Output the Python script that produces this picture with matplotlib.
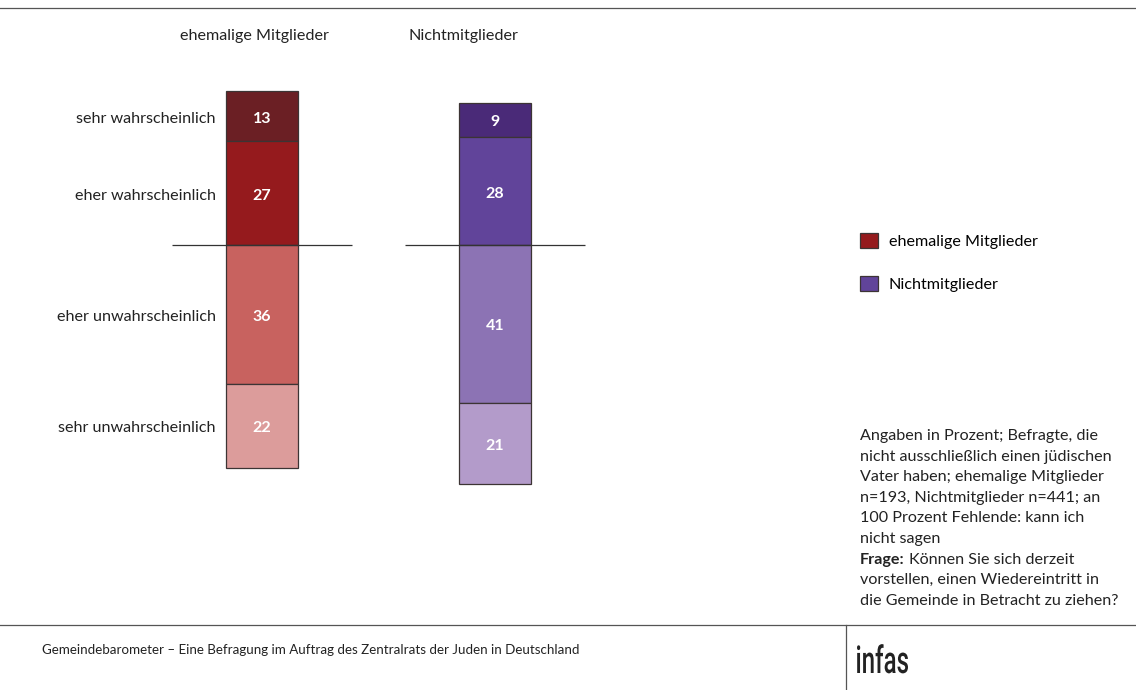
import matplotlib
matplotlib.use("Agg")
import matplotlib.pyplot as plt
from matplotlib.patches import Patch, PathPatch
from matplotlib.lines import Line2D
from matplotlib.textpath import TextPath
from matplotlib.font_manager import FontProperties
from matplotlib.transforms import Affine2D, IdentityTransform, ScaledTranslation

plt.rcParams['font.family'] = ['Lato', 'DejaVu Sans']

# data
groups = ['ehemalige Mitglieder', 'Nichtmitglieder']
categories = ['sehr wahrscheinlich', 'eher wahrscheinlich',
              'eher unwahrscheinlich', 'sehr unwahrscheinlich']
ehemalige = [13, 27, 36, 22]
nichtmitglieder = [9, 28, 41, 21]

red_shades = ['#6B1F24', '#951A1D', '#C8625F', '#DC9C9B']
purple_shades = ['#4A2A78', '#61449A', '#8C73B4', '#B39BCA']

note_lines = ['Angaben in Prozent; Befragte, die',
              'nicht ausschließlich einen jüdischen',
              'Vater haben; ehemalige Mitglieder',
              'n=193, Nichtmitglieder n=441; an',
              '100 Prozent Fehlende: kann ich',
              'nicht sagen']
frage_lines = ['Können Sie sich derzeit',
               'vorstellen, einen Wiedereintritt in',
               'die Gemeinde in Betracht zu ziehen?']
footer = 'Gemeindebarometer – Eine Befragung im Auftrag des Zentralrats der Juden in Deutschland'

W, H = 1136, 690
fs = 11.6
txt = '#222222'
fig = plt.figure(figsize=(W / 100, H / 100), dpi=100)


def px(x, y):
    return x / W, 1 - y / H


# axes: pixel box x 172..586, y 52.5..514.5
ax = fig.add_axes([172 / W, (H - 514.5) / H, 414 / W, 462 / H])
ax.set_xlim(-0.386, 1.391)
ax.set_ylim(-70, 50)
ax.axis('off')

# labels sit a touch lower than the geometric centre
down = ax.transData + ScaledTranslation(0, -2.5 / 100, fig.dpi_scale_trans)

bw = 0.309
edge = '#3c3434'
for i, (vals, cols) in enumerate([(ehemalige, red_shades), (nichtmitglieder, purple_shades)]):
    bottoms = [vals[1], 0, 0, -vals[2]]
    heights = [vals[0], vals[1], -vals[2], -vals[3]]
    for b, h, c, v in zip(bottoms, heights, cols, vals):
        ax.bar(i, h, bottom=b, width=bw, color=c, edgecolor=edge, linewidth=0.9)
        ax.text(i, b + h / 2, str(v), ha='center', va='center', color='white',
                fontsize=11.5, fontweight='bold', transform=down)
    ax.hlines(0, i - 0.386, i + 0.386, color='#333333', linewidth=0.9)

# category labels next to the first bar
b0 = [ehemalige[1], 0, 0, -ehemalige[2]]
h0 = [ehemalige[0], ehemalige[1], -ehemalige[2], -ehemalige[3]]
for cat, b, h in zip(categories, b0, h0):
    ax.text(-bw / 2 - 0.043, b + h / 2, cat, ha='right', va='center',
            fontsize=fs, color=txt, transform=down)

# column headers
fig.text(*px(254, 36), groups[0], ha='center', va='center', fontsize=fs, color=txt)
fig.text(*px(463, 36), groups[1], ha='center', va='center', fontsize=fs, color=txt)

# legend
handles = [Patch(facecolor=red_shades[1], edgecolor=edge, linewidth=0.9),
           Patch(facecolor=purple_shades[1], edgecolor=edge, linewidth=0.9)]
fig.legend(handles, groups, loc='upper left', bbox_to_anchor=px(860, 233),
           frameon=False, fontsize=fs, handlelength=1.1, handleheight=1.1,
           handletextpad=0.7, labelspacing=1.65, borderaxespad=0, borderpad=0)

# note text
y0 = 436
step = 20.6
for k, line in enumerate(note_lines):
    fig.text(*px(860, y0 + k * step), line, ha='left', va='center', fontsize=fs, color=txt)
k = len(note_lines)
t = fig.text(*px(860, y0 + k * step), 'Frage:', ha='left', va='center', fontsize=fs,
             fontweight='bold', color=txt)
fig.canvas.draw()
bb = t.get_window_extent()
fig.text((bb.x1 + 4) / W, 1 - (y0 + k * step) / H, frage_lines[0], ha='left', va='center',
         fontsize=fs, color=txt)
for j, line in enumerate(frage_lines[1:], start=1):
    fig.text(*px(860, y0 + (k + j) * step), line, ha='left', va='center', fontsize=fs,
             color=txt)

# frame lines
fig.add_artist(Line2D([0, 1], [1 - 8 / H, 1 - 8 / H], color='#555555', linewidth=0.9))
fig.add_artist(Line2D([0, 1], [1 - 625 / H, 1 - 625 / H], color='#555555', linewidth=0.9))
fig.add_artist(Line2D([846 / W, 846 / W], [0, 1 - 625 / H], color='#555555', linewidth=0.9))

fig.text(*px(42, 650), footer, ha='left', va='center', fontsize=9.6, color=txt)

# condensed "infas" logo text
tp = TextPath((0, 0), 'infas', size=38, prop=FontProperties(family='Roboto', weight='medium'))
ext = tp.get_extents()
sx = 51 / ext.width
logo = PathPatch(tp, facecolor=txt, edgecolor='none',
                 transform=Affine2D().translate(-ext.x0, 0).scale(sx, 1).translate(857, H - 673)
                 + IdentityTransform())
fig.add_artist(logo)

fig.savefig('out.png', dpi=100)
